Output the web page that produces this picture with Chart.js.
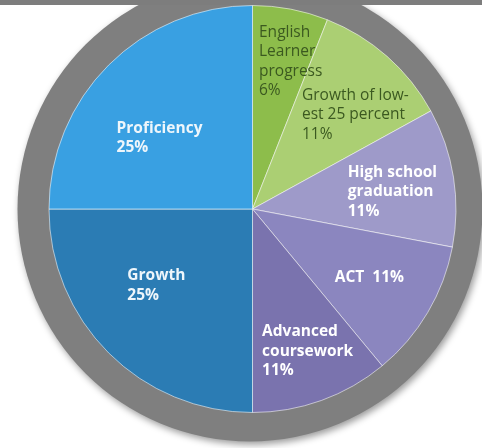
<!DOCTYPE html>
<html>
<head>
<meta charset="utf-8">
<script src="https://cdn.jsdelivr.net/npm/chart.js@4.4.1/dist/chart.umd.min.js"></script>
<style>
  html, body { margin: 0; padding: 0; background: #ffffff; }
  #wrap { position: relative; width: 482px; height: 448px; }
</style>
</head>
<body>
<div id="wrap"><canvas id="myChart" width="482" height="448"></canvas></div>
<script>
// categories and shares (percent), clockwise from 12 o'clock
const categories = ['English Learner progress', 'Growth of lowest 25 percent', 'High school graduation', 'ACT', 'Advanced coursework', 'Growth', 'Proficiency']
const shares = [6, 11, 11, 11, 11, 25, 25]
// how each name is broken into lines inside its slice
const labelLines = [
  ['English', 'Learner', 'progress'],
  ['Growth of low-', 'est 25 percent'],
  ['High school', 'graduation'],
  ['ACT'],
  ['Advanced', 'coursework'],
  ['Growth'],
  ['Proficiency']
]

const sliceColors = ['#8dbd4b', '#abcf73', '#9e9ac9', '#8b86bf', '#7a73ae', '#2b7cb4', '#39a0e2']

// label placement: top-left of the text block, in units of the pie radius from its centre
const labelStyle = [
  { fx: 0.032, fy: -0.868, color: '#3b5920', font: '15.5px "Open Sans"', inline: false },
  { fx: 0.243, fy: -0.559, color: '#3b5920', font: '15.5px "Open Sans"', inline: false },
  { fx: 0.468, fy: -0.181, color: '#ffffff', font: 'bold 15.5px "Open Sans"', inline: false },
  { fx: 0.404, fy: 0.338, color: '#ffffff', font: 'bold 15.5px "Open Sans"', inline: true },
  { fx: 0.047, fy: 0.603, color: '#ffffff', font: 'bold 15.5px "Open Sans"', inline: false },
  { fx: -0.615, fy: 0.328, color: '#eef6fb', font: 'bold 15.5px "Open Sans"', inline: false },
  { fx: -0.668, fy: -0.397, color: '#eef6fb', font: 'bold 15.5px "Open Sans"', inline: false }
]
const LINE_H = 19.5

// grey rim behind the pie plus the strip along the top
const rimPlugin = {
  id: 'rim',
  beforeDatasetsDraw(chart) {
    const arc = chart.getDatasetMeta(0).data[0]
    if (!arc) return
    const { x, y, outerRadius } = arc.getProps(['x', 'y', 'outerRadius'], true)
    const ctx = chart.ctx
    ctx.save()
    ctx.shadowColor = 'rgba(0,0,0,0.4)'
    ctx.shadowBlur = 7
    ctx.shadowOffsetX = 2
    ctx.shadowOffsetY = 3
    ctx.fillStyle = '#7f7f7f'
    ctx.beginPath()
    ctx.arc(x - 2.5, y, outerRadius + 29, 0, Math.PI * 2)
    ctx.fill()
    ctx.restore()
    ctx.save()
    ctx.fillStyle = '#7d7d7d'
    ctx.fillRect(0, 0, chart.width, 5)
    ctx.restore()
  }
}

// names and percentages drawn inside the slices
const sliceLabelPlugin = {
  id: 'sliceLabels',
  afterDatasetsDraw(chart) {
    const meta = chart.getDatasetMeta(0)
    const values = chart.data.datasets[0].data
    const ctx = chart.ctx
    ctx.save()
    ctx.textAlign = 'left'
    ctx.textBaseline = 'middle'
    meta.data.forEach((arc, i) => {
      const { x, y, outerRadius } = arc.getProps(['x', 'y', 'outerRadius'], true)
      const st = labelStyle[i]
      const lines = labelLines[i].slice()
      const pct = values[i] + '%'
      if (st.inline) lines[lines.length - 1] += '  ' + pct
      else lines.push(pct)
      ctx.fillStyle = st.color
      ctx.font = st.font
      const lx = x + st.fx * outerRadius
      const ly = y + st.fy * outerRadius
      lines.forEach((t, k) => ctx.fillText(t, lx, ly + k * LINE_H))
    })
    ctx.restore()
  }
}

const canvas = document.querySelector('#myChart')
const myChart = new Chart(canvas.getContext('2d'), {
  type: 'pie',
  data: {
    labels: categories,
    datasets: [{
      data: shares,
      backgroundColor: sliceColors,
      borderColor: 'rgba(255,255,255,0.55)',
      borderWidth: 1
    }]
  },
  options: {
    responsive: false,
    animation: false,
    layout: { padding: { left: 48, right: 25, top: 5, bottom: 35 } },
    plugins: {
      legend: { display: false },
      tooltip: { enabled: false }
    }
  },
  plugins: [rimPlugin, sliceLabelPlugin]
})
</script>
</body>
</html>
